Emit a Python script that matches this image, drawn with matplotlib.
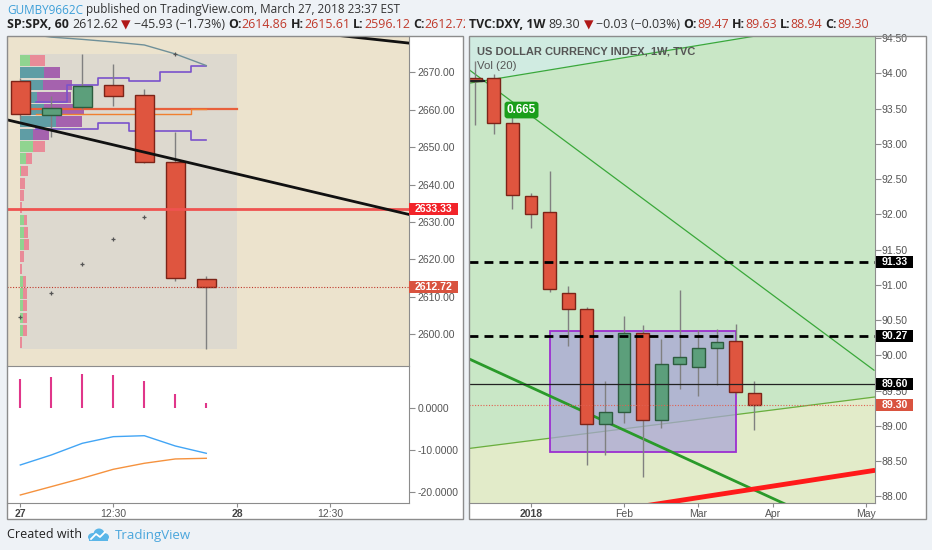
import matplotlib
matplotlib.use('Agg')
import matplotlib.pyplot as plt
from matplotlib.patches import Rectangle, Ellipse
from matplotlib.transforms import Bbox, TransformedBbox
import numpy as np

plt.rcParams['font.family'] = ['Liberation Sans', 'DejaVu Sans']

# ---------------- data: SP:SPX 60 min (bar index 0 = Mar 27 9:30) ----------------
spx_bars  = [0, 1, 2, 3, 4, 5, 6]
spx_open  = [2667.7, 2658.6, 2660.6, 2666.6, 2663.9, 2646.1, 2614.86]
spx_high  = [2668.6, 2663.7, 2674.9, 2672.2, 2665.5, 2654.1, 2615.61]
spx_low   = [2657.5, 2652.8, 2660.3, 2661.0, 2645.8, 2614.1, 2596.12]
spx_close = [2658.8, 2660.4, 2666.4, 2663.7, 2646.1, 2615.1, 2612.72]
spx_time_ticks  = [0, 3, 7, 10]
spx_time_labels = ['27', '12:30', '28', '12:30']
spx_time_bold   = [True, False, True, False]
spx_price_ticks = [2600, 2610, 2620, 2630, 2640, 2650, 2660, 2670]

# session volume profile (24 rows, top row first)
vp_up   = [10, 24, 23, 17, 24, 36, 13, 13, 6, 1, 0, 0, 0, 4, 4, 4, 0, 0, 3, 3, 3, 3, 3, 0]
vp_down = [15, 16, 29, 34, 40, 26, 16, 12, 6, 7, 5, 4, 2, 3, 3.5, 4.5, 4, 2, 3, 4, 4, 4, 3.5, 2]
vp_value_area = [1, 2, 3, 4, 5, 6]
session_high = 2674.78
session_low = 2596.12
session_poc = 2660.2
dev_bars = [1, 2, 3, 4, 5, 6]
dev_poc = [2658.8, 2658.8, 2658.8, 2658.8, 2658.8, 2660.2]
dev_vah = [2662.1, 2666.6, 2668.6, 2667.7, 2670.0, 2671.8]
dev_val = [2654.8, 2654.8, 2656.5, 2654.4, 2654.4, 2651.9]
upper_band = [2680.5, 2679.4, 2678.8, 2678.1, 2677.3, 2674.9, 2671.8]
sar_bars = [0, 1, 2, 3, 4, 5]
sar_vals = [2604.7, 2611.0, 2618.7, 2625.4, 2631.4, 2674.9]
trend_black_x = [-0.43, 12.54]
trend_black_y = [2657.3, 2632.0]
trend_top_x = [8.0, 12.54]
trend_top_y = [2681.9, 2677.8]
spx_level = 2633.33
spx_last = 2612.72

# oscillator pane
osc_hist = [6.76, 7.38, 8.02, 7.79, 6.43, 3.26, 1.19]
osc_fast = [-13.64, -11.26, -8.48, -6.90, -6.67, -9.12, -10.86]
osc_slow = [-20.79, -18.80, -16.80, -14.67, -13.24, -12.21, -12.05]
osc_ticks = [0, -10, -20]
osc_labels = ['0.0000', '-10.0000', '-20.0000']

# ---------------- data: TVC:DXY 1W (week index 0 = first week of 2018) ----------------
dxy_week  = [-3, -2, -1, 0, 1, 2, 3, 4, 5, 6, 7, 8, 9, 10, 11, 12]
dxy_open  = [93.93, 93.94, 93.29, 92.26, 92.03, 90.88, 90.66, 89.03, 89.20, 90.32, 89.08, 89.88, 89.83, 90.10, 90.20, 89.47]
dxy_high  = [94.18, 93.99, 93.38, 92.31, 92.62, 90.98, 90.69, 89.64, 90.56, 90.43, 90.23, 90.93, 90.36, 90.37, 90.44, 89.63]
dxy_low   = [93.27, 93.14, 92.08, 91.80, 90.90, 90.13, 88.45, 88.58, 89.04, 88.27, 88.97, 89.52, 89.42, 89.58, 89.45, 88.94]
dxy_close = [93.89, 93.29, 92.28, 92.00, 90.94, 90.66, 89.02, 89.20, 90.32, 89.08, 89.88, 89.97, 90.10, 90.19, 89.48, 89.30]
dxy_time_ticks  = [0, 5, 9, 13, 18]
dxy_time_labels = ['2018', 'Feb', 'Mar', 'Apr', 'May']
dxy_time_bold   = [True, False, False, False, False]
dxy_price_ticks = [88.0, 88.5, 89.0, 89.5, 90.0, 90.5, 91.0, 91.5, 92.0, 92.5, 93.0, 93.5, 94.0, 94.5]
dxy_upper_x = [-3.33, 18.5];  dxy_upper_y = [93.86, 94.81]
dxy_desc_x  = [-3.32, 18.44]; dxy_desc_y  = [94.05, 89.79]
dxy_thick_x = [-3.33, 14.0];  dxy_thick_y = [89.95, 87.85]
dxy_rise_x  = [-3.32, 18.49]; dxy_rise_y  = [88.68, 89.41]
dxy_red_x   = [6.0, 18.5];    dxy_red_y   = [87.86, 88.37]
dxy_short_x = [-3.33, -2.53]; dxy_short_y = [93.89, 93.89]
dxy_box = (1, 11, 88.63, 90.34)
dxy_dashed = [91.33, 90.27]
dxy_solid = 89.60
dxy_last = 89.30
dxy_note = (-0.51, 93.48, '0.665')

# ---------------- figure ----------------
W, H = 932, 550
fig = plt.figure(figsize=(W / 100, H / 100), dpi=100)
fig.patch.set_facecolor('#eef2f6')
GRID = '#8c8c8c'
TXT = '#555555'


def axes_px(x0, y0, x1, y1):
    return fig.add_axes([x0 / W, 1 - y1 / H, (x1 - x0) / W, (y1 - y0) / H])


def frame(x0, y0, x1, y1):
    fig.add_artist(Rectangle((x0 / W, 1 - y1 / H), (x1 - x0) / W, (y1 - y0) / H,
                             transform=fig.transFigure, fc='white', ec='none', zorder=-5))
    fig.add_artist(Rectangle((x0 / W, 1 - y1 / H), (x1 - x0) / W, (y1 - y0) / H,
                             transform=fig.transFigure, fc='none', ec=GRID, lw=1, zorder=8))


frame(7, 36, 463, 519)
frame(469, 36, 926, 519)


def candles(ax, xs, o, h, l, c, width):
    for xi, oi, hi, li, ci in zip(xs, o, h, l, c):
        up = ci >= oi
        fc = '#5c9f7b' if up else '#df553f'
        ec = '#2d5c3e' if up else '#7c2418'
        ax.vlines(xi, li, hi, color='#808080', lw=1, zorder=4)
        hgt = max(abs(ci - oi), 0.0008 * (ax.get_ylim()[1] - ax.get_ylim()[0]))
        ax.add_patch(Rectangle((xi - width / 2, min(oi, ci)), width, hgt,
                               fc=fc, ec=ec, lw=1, zorder=4.5))


def style_axes(ax, right=True, bottom=False, top=False):
    for s in ['left', 'right', 'top', 'bottom']:
        ax.spines[s].set_visible(False)
        ax.spines[s].set_color(GRID)
    ax.spines['right'].set_visible(right)
    ax.spines['bottom'].set_visible(bottom)
    ax.spines['top'].set_visible(top)
    ax.yaxis.tick_right()
    ax.tick_params(axis='y', length=4, color=GRID, labelsize=7.5, labelcolor=TXT, pad=2)
    ax.tick_params(axis='x', length=3, color=GRID, labelsize=7.5, labelcolor=TXT, pad=1.5)


def price_tag(ax, y, text, fc, x0, x1, tc='white'):
    yd = ax.transData.transform((ax.get_xlim()[0], y))[1]
    hh = 12
    fig.add_artist(Rectangle((x0 / W, (yd - hh / 2) / H), (x1 - x0) / W, hh / H,
                             transform=fig.transFigure, fc=fc, ec='none', zorder=9))
    fig.text((x0 + x1) / 2 / W, yd / H, text, color=tc, fontsize=7.6, fontweight='bold',
             ha='center', va='center', zorder=10)


# ---------------- left main pane ----------------
axl = axes_px(7, 36, 409, 366)
axl.set_xlim(-0.43, 12.54)
axl.set_ylim(2591.5, 2679.7)
axl.set_facecolor('#ece3cd')
style_axes(axl)
axl.set_xticks([])
axl.set_yticks(spx_price_ticks)
axl.set_yticklabels([f'{v:.2f}' for v in spx_price_ticks])

axl.add_patch(Rectangle((-0.01, session_low), 7.0, session_high - session_low,
                        fc='#ddd9cf', ec='none', zorder=0.5))

nrows = len(vp_up)
row_h = (session_high - session_low) / nrows
vp_scale = 1 / 31.0
for k in range(nrows):
    top = session_high - k * row_h
    bot = top - row_h
    va = k in vp_value_area
    cu = '#5f9da5' if va else '#90d490'
    cd = '#a562ae' if va else '#e98b98'
    x0 = -0.01
    axl.add_patch(Rectangle((x0, bot + row_h * 0.06), vp_up[k] * vp_scale, row_h * 0.88,
                            fc=cu, ec='none', zorder=1))
    axl.add_patch(Rectangle((x0 + vp_up[k] * vp_scale, bot + row_h * 0.06), vp_down[k] * vp_scale,
                            row_h * 0.88, fc=cd, ec='none', zorder=1))

axl.plot([-0.01, 6.99], [session_poc, session_poc], color='#e8603c', lw=1.6, zorder=2)
edges = [b - 0.5 for b in dev_bars] + [dev_bars[-1]]
axl.plot(edges, dev_poc + [dev_poc[-1]], drawstyle='steps-post', color='#f08030', lw=1, zorder=2.2)
axl.plot(edges, dev_vah + [dev_vah[-1]], drawstyle='steps-post', color='#7a52cc', lw=1.2, zorder=2.2)
axl.plot(edges, dev_val + [dev_val[-1]], drawstyle='steps-post', color='#7a52cc', lw=1.2, zorder=2.2)
axl.plot(spx_bars, upper_band, color='#6f9099', lw=1, zorder=2.3)
axl.plot(sar_bars, sar_vals, ls='none', marker='+', ms=3, mew=0.9, color='#555555', zorder=3)

candles(axl, spx_bars, spx_open, spx_high, spx_low, spx_close, 0.62)

axl.axhline(spx_level, color='#ef5350', lw=2, zorder=5)
axl.axhline(spx_last, color='#c0392b', lw=0.8, ls=(0, (1, 1.5)), zorder=5)
axl.plot(trend_black_x, trend_black_y, color='#111111', lw=2, zorder=6)
axl.plot(trend_top_x, trend_top_y, color='#111111', lw=2, zorder=6)

price_tag(axl, spx_level, f'{spx_level:.2f}', '#f2242a', 409, 458)
price_tag(axl, spx_last, f'{spx_last:.2f}', '#d9533f', 409, 458)

# ---------------- left oscillator pane ----------------
axi = axes_px(7, 366, 409, 503)
axi.set_xlim(-0.43, 12.54)
axi.set_ylim(-22.7, 9.93)
axi.set_facecolor('white')
style_axes(axi, right=True, bottom=True, top=True)
axi.set_yticks(osc_ticks)
axi.set_yticklabels(osc_labels)
axi.vlines(spx_bars, 0, osc_hist, color='#e0368a', lw=1.5, zorder=3)
axi.plot(spx_bars, osc_fast, color='#42a5f5', lw=1, zorder=3)
axi.plot(spx_bars, osc_slow, color='#f5923e', lw=1, zorder=3)
axi.set_xticks(spx_time_ticks)
axi.set_xticklabels(spx_time_labels)
for lbl, b in zip(axi.get_xticklabels(), spx_time_bold):
    if b:
        lbl.set_fontweight('bold')
        lbl.set_color('#444444')

# ---------------- right DXY pane ----------------
axr = axes_px(469, 36, 875, 503)
axr.set_xlim(-3.333, 18.495)
axr.set_ylim(87.906, 94.53)
axr.set_facecolor('#c9e7c6')
style_axes(axr, right=True, bottom=True)
axr.tick_params(axis='y', pad=1)
axr.set_yticks(dxy_price_ticks)
axr.set_yticklabels([f'{v:.2f}' for v in dxy_price_ticks])
axr.set_xticks(dxy_time_ticks)
axr.set_xticklabels(dxy_time_labels)
for lbl, b in zip(axr.get_xticklabels(), dxy_time_bold):
    if b:
        lbl.set_fontweight('bold')
        lbl.set_color('#444444')

xx = np.array([-3.4, 18.6])
axr.fill_between(xx, np.polyval(np.polyfit(dxy_upper_x, dxy_upper_y, 1), xx), 96,
                 color='#d0ebe1', lw=0, zorder=0.2)
axr.fill_between(xx, 86, np.polyval(np.polyfit(dxy_rise_x, dxy_rise_y, 1), xx),
                 color='#e2ebc9', lw=0, zorder=0.2)

axr.plot(dxy_rise_x, dxy_rise_y, color='#6aae3c', lw=0.9, zorder=1)
bx0, bx1, by0, by1 = dxy_box
axr.add_patch(Rectangle((bx0, by0), bx1 - bx0, by1 - by0, fc='#a9a4d6', alpha=0.72,
                        ec='none', zorder=2))
axr.add_patch(Rectangle((bx0, by0), bx1 - bx0, by1 - by0, fc='none', ec='#9c2fd0',
                        lw=1.3, zorder=2.1))
axr.plot(dxy_upper_x, dxy_upper_y, color='#3aa83a', lw=0.9, zorder=3)
axr.plot(dxy_desc_x, dxy_desc_y, color='#3aa83a', lw=0.9, zorder=3)
axr.plot(dxy_thick_x, dxy_thick_y, color='#2a9a2a', lw=2, zorder=3)
axr.plot(dxy_red_x, dxy_red_y, color='#ff1a1a', lw=3.5, zorder=3, solid_capstyle='butt')

candles(axr, dxy_week, dxy_open, dxy_high, dxy_low, dxy_close, 0.68)

axr.plot(dxy_short_x, dxy_short_y, color='#222222', lw=1.6, zorder=6)
for lv in dxy_dashed:
    axr.axhline(lv, color='#000000', lw=2, ls=(0, (3.2, 2.2)), zorder=6)
axr.axhline(dxy_solid, color='#222222', lw=0.9, zorder=6)
axr.axhline(dxy_last, color='#e06050', lw=0.8, ls=(0, (1, 1.5)), zorder=6)

nx, ny, nt = dxy_note
axr.text(nx, ny, nt, color='white', fontsize=8.5, fontweight='bold', ha='center', va='center',
         zorder=7, bbox=dict(boxstyle='round,pad=0.2,rounding_size=0.25', fc='#1b9e1b', ec='none'))

axr.text(0.019, 0.967, 'US DOLLAR CURRENCY INDEX, 1W, TVC', transform=axr.transAxes,
         color='#555555', fontsize=8.0, fontweight='bold', ha='left', va='center', zorder=8)
axr.text(0.019, 0.936, 'Vol (20)', transform=axr.transAxes,
         color='#555555', fontsize=8.2, ha='left', va='center', zorder=8)

for lv in dxy_dashed + [dxy_solid]:
    price_tag(axr, lv, f'{lv:.2f}', '#000000', 876, 913)
price_tag(axr, dxy_last, f'{dxy_last:.2f}', '#d9533f', 876, 913)

# ---------------- header / footer text ----------------
renderer = fig.canvas.get_renderer()
HF = ['Open Sans', 'DejaVu Sans']


def text_w(s, size, weight):
    t = fig.text(0, 0, s, fontsize=size, fontweight=weight, family=HF)
    w = t.get_window_extent(renderer).width
    t.remove()
    return w


def seq_text(x_px, y_px, pieces, size, clip_px=None):
    sp = text_w('x x', size, 'normal') - text_w('xx', size, 'normal')
    x = x_px
    for s, col, wt, nsp in pieces:
        x += nsp * sp
        t = fig.text(x / W, 1 - y_px / H, s, color=col, fontweight=wt, fontsize=size,
                     family=HF, ha='left', va='center')
        if clip_px is not None:
            t.set_clip_box(TransformedBbox(Bbox([[0, 0], [clip_px / W, 1]]), fig.transFigure))
            t.set_clip_on(True)
        x += t.get_window_extent(renderer).width


RED = '#c0392b'
DK = '#222222'
seq_text(7, 10, [('GUMBY9662C', '#3d9fd8', 'normal', 0),
                 ('published on TradingView.com, March 27, 2018 23:37 EST', '#333333', 'normal', 1)], 8.5)
seq_text(7, 25, [('SP:SPX, 60', DK, 'bold', 0), ('2612.62', '#333333', 'normal', 1),
                 ('\u25bc', '#b01818', 'normal', 1), ('\u221245.93 (\u22121.73%)', '#333333', 'normal', 1),
                 ('O:', DK, 'bold', 1), ('2614.86', RED, 'normal', 0),
                 ('H:', DK, 'bold', 1), ('2615.61', RED, 'normal', 0),
                 ('L:', DK, 'bold', 1), ('2596.12', RED, 'normal', 0),
                 ('C:', DK, 'bold', 1), ('2612.72', RED, 'normal', 0)], 8.9, clip_px=465)
seq_text(469, 25, [('TVC:DXY, 1W', DK, 'bold', 0), ('89.30', '#333333', 'normal', 1),
                   ('\u25bc', '#b01818', 'normal', 1), ('\u22120.03 (\u22120.03%)', '#333333', 'normal', 1),
                   ('O:', DK, 'bold', 1), ('89.47', RED, 'normal', 0),
                   ('H:', DK, 'bold', 1), ('89.63', RED, 'normal', 0),
                   ('L:', DK, 'bold', 1), ('88.94', RED, 'normal', 0),
                   ('C:', DK, 'bold', 1), ('89.30', RED, 'normal', 0)], 8.9)

fig.text(7 / W, 1 - 535 / H, 'Created with', color='#222222', fontsize=9, family=HF,
         ha='left', va='center')
fig.text(115 / W, 1 - 535 / H, 'TradingView', color='#4aa6dc', fontsize=9.5, family=HF,
         ha='left', va='center')
logo = axes_px(86, 527, 110, 543)
logo.set_xlim(0, 24)
logo.set_ylim(0, 16)
logo.axis('off')
for (cx, cy, ew, eh) in [(7, 6, 10, 8), (13, 9, 11, 11), (18, 6, 10, 8)]:
    logo.add_patch(Ellipse((cx, cy), ew, eh, fc='#5ab6e8', ec='none'))
logo.add_patch(Rectangle((3, 2), 19, 4, fc='#5ab6e8', ec='none'))
logo.plot([5, 10, 14, 19], [4, 9, 6, 11], color='white', lw=1.3)

fig.savefig('out.png', dpi=100, facecolor=fig.get_facecolor())
